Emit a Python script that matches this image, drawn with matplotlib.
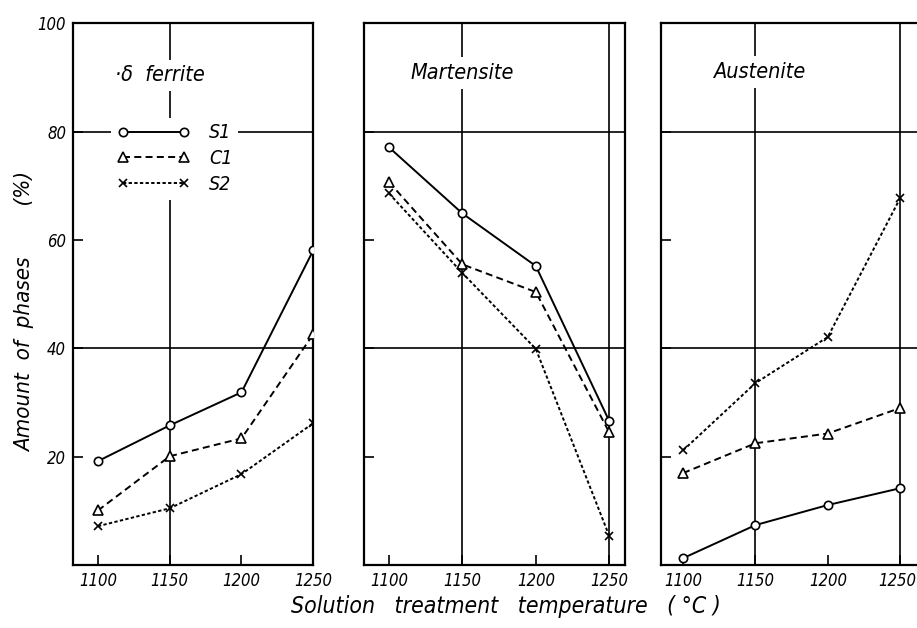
import matplotlib.pyplot as plt
from matplotlib.lines import Line2D
from matplotlib import font_manager
from matplotlib.transforms import ScaledTranslation

# ── Data ──────────────────────────────────────────────────────────────────────

TEMPS = [1100, 1150, 1200, 1250]

PANELS = ["·δ  ferrite", "Martensite", "Austenite"]

ferrite_s1 = [19.2, 25.8, 31.9, 58.1]
ferrite_c1 = [10.1, 20.1, 23.4, 42.6]
ferrite_s2 = [7.2, 10.5, 16.8, 26.2]

martensite_s1 = [77.1, 64.9, 55.2, 26.6]
martensite_c1 = [70.7, 55.5, 50.4, 24.5]
martensite_s2 = [68.6, 53.9, 39.9, 5.4]

austenite_s1 = [1.3, 7.4, 11.1, 14.2]
austenite_c1 = [17.0, 22.5, 24.3, 29.0]
austenite_s2 = [21.2, 33.6, 42.1, 67.7]

SERIES = ["S1", "C1", "S2"]
Y_TICKS = [20, 40, 60, 80, 100]

# ── Styles ────────────────────────────────────────────────────────────────────

installed = {f.name for f in font_manager.fontManager.ttflist}
FONT = [f for f in ("DejaVu Sans Condensed", "Liberation Sans Narrow")
        if f in installed] + ["DejaVu Sans"]
STYLES = {
    "S1": dict(linestyle="-", marker="o", markersize=6),
    "C1": dict(linestyle=(0, (3.6, 2.2)), marker="^", markersize=7.5),
    "S2": dict(linestyle=(0, (1.7, 1.2)), marker="x", markersize=6),
}

plt.rcParams["font.family"] = FONT
plt.rcParams["font.style"] = "italic"
plt.rcParams["font.stretch"] = "condensed"

fig = plt.figure(figsize=(9.17, 6.28), dpi=100)

# axes boxes in figure fraction (left, bottom, width, height)
boxes = [
    (0.0796, 0.100, 0.262, 0.863),
    (0.397, 0.100, 0.285, 0.863),
    (0.721, 0.100, 0.279, 0.863),
]
xlims = [(1082.6, 1250), (1083, 1261), (1084.8, 1261.7)]
title_pos = [(0.175, 0.904), (0.176, 0.908), (0.203, 0.910)]

data = [
    (ferrite_s1, ferrite_c1, ferrite_s2),
    (martensite_s1, martensite_c1, martensite_s2),
    (austenite_s1, austenite_c1, austenite_s2),
]

for i, (box, name, vals) in enumerate(zip(boxes, PANELS, data)):
    ax = fig.add_axes(box)
    ax.set_xlim(*xlims[i])
    ax.set_ylim(0, 100)

    # grid lines of the original sheet
    for y in (40, 80):
        ax.axhline(y, color="black", lw=1.2, zorder=1)
    for x in (1150, 1250):
        ax.axvline(x, color="black", lw=1.2, zorder=1)

    for label, v in zip(SERIES, vals):
        ax.plot(TEMPS, v, color="black", lw=1.4, markerfacecolor="white",
                markeredgecolor="black", markeredgewidth=1.2,
                label=label, zorder=3, **STYLES[label])

    ax.text(*title_pos[i], name, transform=ax.transAxes, fontsize=15.5,
            ha="left", va="center", zorder=4,
            bbox=dict(facecolor="white", edgecolor="none", pad=4))

    ax.set_xticks(TEMPS)
    ax.set_xticklabels([str(t) for t in TEMPS], fontsize=12)
    ax.set_yticks(Y_TICKS)
    if i == 0:
        ax.set_yticklabels([str(t) for t in Y_TICKS], fontsize=12)
    else:
        ax.set_yticklabels([])
    ax.tick_params(direction="in", length=7, width=1.2, pad=5,
                   top=False, right=False)

    for side, sp in ax.spines.items():
        sp.set_linewidth(1.6)
    if i == 2:
        ax.spines["right"].set_visible(False)
        # the last label sits at the paper edge; keep it inside the picture
        last = ax.get_xticklabels()[-1]
        last.set_horizontalalignment("right")
        last.set_transform(last.get_transform()
                           + ScaledTranslation(0.16, 0, fig.dpi_scale_trans))

    if i == 0:
        handles = [Line2D([0], [0], color="black", lw=1.4,
                          markerfacecolor="white", markeredgecolor="black",
                          markeredgewidth=1.2, **STYLES[s]) for s in SERIES]
        leg = ax.legend(handles, SERIES, loc="upper left",
                        bbox_to_anchor=(0.158, 0.826), fontsize=14,
                        numpoints=2, handlelength=3.75, handletextpad=1.0,
                        labelspacing=0.35, borderpad=0.3, borderaxespad=0,
                        frameon=True, fancybox=False)
        leg.get_frame().set_edgecolor("none")
        leg.get_frame().set_facecolor("white")
        leg.get_frame().set_alpha(1)
        leg.set_zorder(5)

fig.text(25 / 917, 1 - 312 / 628, "Amount  of  phases        (%)",
         rotation=90, ha="center", va="center", fontsize=16)
fig.text(506 / 917, 1 - 606 / 628, "Solution   treatment   temperature   ( °C )",
         ha="center", va="center", fontsize=16.5)

fig.savefig("out.png", dpi=100, facecolor="white")
